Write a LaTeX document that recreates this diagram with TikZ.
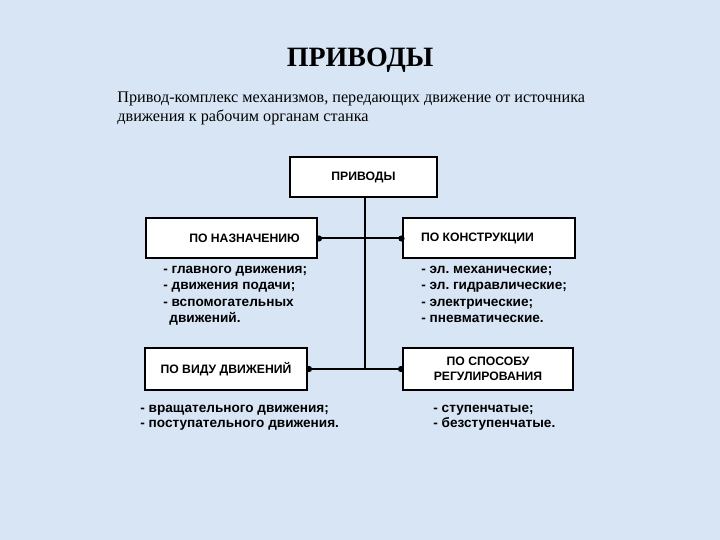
\documentclass[tikz,border=0pt]{standalone}
\usepackage{fontspec}
\setmainfont{Liberation Serif}
\newfontfamily\arialfont{Liberation Sans}
\usepackage{tikz}
\usetikzlibrary{arrows.meta,positioning}
\frenchspacing

\definecolor{bgblue}{RGB}{216,229,245}

\begin{document}
\begin{tikzpicture}[
		x=0.5pt, y=-0.5pt,
		box/.style={draw, fill=white, line width=1pt, minimum height=20pt, align=center,
			font=\arialfont\bfseries\fontsize{6.1}{7.4}\selectfont},
		lst/.style={anchor=north west, align=left, inner sep=0pt,
			font=\arialfont\bfseries\fontsize{6.8}{8.1}\selectfont},
		ln/.style={line width=1pt, {Circle[length=3pt]}-{Circle[length=3pt]}}
	]

	\fill[bgblue] (0,0) rectangle (720,540);
	\useasboundingbox (0,0) rectangle (720,540);

	% zagolovok
	\node[font=\bfseries\fontsize{14}{16}\selectfont] (title) at (360,60) {ПРИВОДЫ};
	\node[anchor=north west, align=left, inner sep=0pt, font=\fontsize{8.1}{9.5}\selectfont] (txt) at (117,91)
		{Привод-комплекс механизмов, передающих движение от источника\\
		 движения к рабочим органам станка};

	% bloki
	\node[box, minimum width=73.5pt] (root) at (363.5,177) {ПРИВОДЫ};
	\node[box, minimum width=85.5pt] (nazn) at (231.5,238.5) {\hspace*{13pt}ПО НАЗНАЧЕНИЮ};
	\node[box, minimum width=86pt] (konstr) at (489.5,238.5) {ПО КОНСТРУКЦИИ\hspace*{12pt}\mbox{}};
	\node[box, minimum width=81pt, minimum height=21pt] (vid) at (226,369) {ПО ВИДУ ДВИЖЕНИЙ};
	\node[box, minimum width=85pt, minimum height=21pt] (sposob) at (488,369) {ПО СПОСОБУ\\ РЕГУЛИРОВАНИЯ};

	% spiski
	\node[lst] (l1) at (163,266) {- главного движения;\\ - движения подачи;\\ - вспомогательных\\ \ \,движений.};
	\node[lst] (l2) at (421,266) {- эл. механические;\\ - эл. гидравлические;\\ - электрические;\\ - пневматические.};
	\node[lst, font=\arialfont\bfseries\fontsize{6.8}{7.6}\selectfont] (l3) at (140,405) {- вращательного движения;\\ - поступательного движения.};
	\node[lst, font=\arialfont\bfseries\fontsize{6.8}{7.6}\selectfont] (l4) at (433,405) {- ступенчатые;\\ - безступенчатые.};

	% linii
	\coordinate (bot) at (365,370);
	\draw[line width=1pt] (root.south -| bot) -- (bot);
	\draw[ln, shorten <=-1pt, shorten >=-1pt] (nazn.east) -- (konstr.west);
	\draw[ln, shorten <=-1pt, shorten >=-1pt] (vid.east) -- (sposob.west);
\end{tikzpicture}
\end{document}
